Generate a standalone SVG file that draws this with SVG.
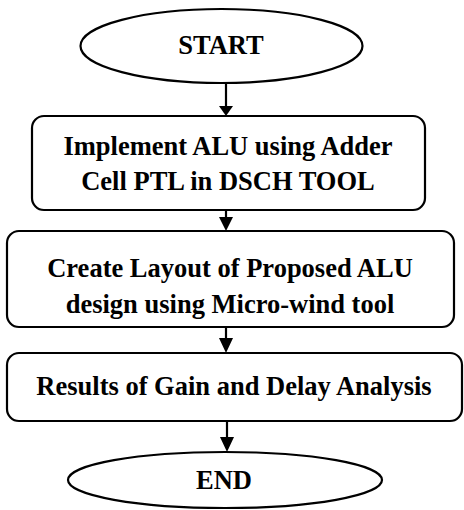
<svg xmlns="http://www.w3.org/2000/svg" width="464" height="510" viewBox="0 0 464 510">
<style>
.s{fill:#fff;stroke:#000;stroke-width:2.2}
.t{font-family:"Liberation Serif","Times New Roman",serif;font-weight:bold;font-size:26.5px;fill:#000;text-anchor:middle}
.l{stroke:#000;stroke-width:2.2;fill:none}
.h{fill:#000}
</style>
<rect width="464" height="510" fill="#fff"/>
<g id="connectors">
<path class="l" d="M226,83 V108"/>
<path class="h" d="M219,106 L233,106 L226,116 Z"/>
<path class="l" d="M226,210 V218"/>
<path class="h" d="M219,217 L233,217 L226,231 Z"/>
<path class="l" d="M226,327 V339"/>
<path class="h" d="M219,338 L233,338 L226,353 Z"/>
<path class="l" d="M227,421 V438"/>
<path class="h" d="M220,437 L234,437 L227,452 Z"/>
</g>
<g id="start">
<ellipse class="s" cx="221.5" cy="46" rx="141" ry="37"/>
<text class="t" x="221" y="54">START</text>
</g>
<g id="step1">
<rect class="s" x="32" y="116" width="393" height="94" rx="12"/>
<text class="t" x="228" y="155">Implement ALU using Adder</text>
<text class="t" x="228" y="190">Cell PTL in DSCH TOOL</text>
</g>
<g id="step2">
<rect class="s" x="7" y="231" width="447" height="96" rx="12"/>
<text class="t" x="230" y="277">Create Layout of Proposed ALU</text>
<text class="t" x="230" y="313">design using Micro-wind tool</text>
</g>
<g id="step3">
<rect class="s" x="7" y="353" width="455" height="68" rx="12"/>
<text class="t" x="234" y="395">Results of Gain and Delay Analysis</text>
</g>
<g id="end">
<ellipse class="s" cx="225" cy="480" rx="157" ry="28"/>
<text class="t" x="224" y="489">END</text>
</g>
</svg>
